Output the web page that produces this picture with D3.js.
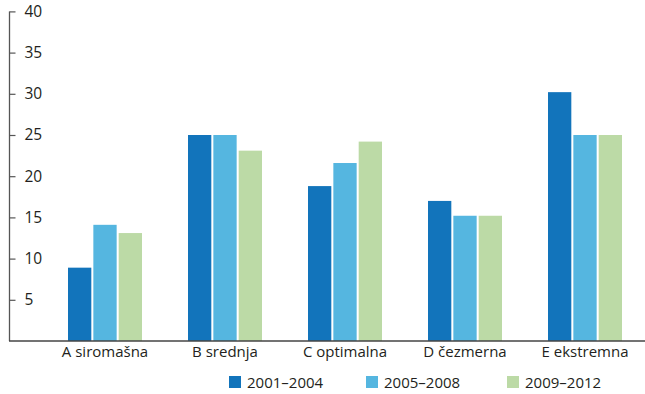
<!DOCTYPE html>
<html><head><meta charset="utf-8">
<script src="https://cdn.jsdelivr.net/npm/d3@7"></script>
<style>body{margin:0;background:#fff}svg{display:block}text{font-family:"Open Sans",sans-serif;fill:#231f20}</style>
</head><body><svg id="c" width="645" height="394"></svg>
<script>
const categories = ["A siromašna","B srednja","C optimalna","D čezmerna","E ekstremna"];
const seriesNames = ["2001–2004","2005–2008","2009–2012"];
const s2001 = [8.9, 25, 18.8, 17, 30.2];
const s2005 = [14.1, 25, 21.6, 15.2, 25];
const s2009 = [13.1, 23.1, 24.2, 15.2, 25];
const yTicks = [5,10,15,20,25,30,35,40];
const colors = ["#1274bb","#55b6e0","#bcdaa6"];
const series = [s2001, s2005, s2009];

const svg = d3.select("#c");
const y = d3.scaleLinear().domain([0,40]).range([341, 11.4]);
const x = d3.scaleBand().domain(categories).range([45, 645]).paddingInner(0).paddingOuter(0);
const x1 = d3.scaleBand().domain(seriesNames).range([0, 74]).paddingInner(0.08);
const step = x.bandwidth();

categories.forEach((c, i) => {
  const g = svg.append("g").attr("transform", `translate(${x(c) + step/2 - 37},0)`);
  series.forEach((s, j) => {
    g.append("rect").attr("x", x1(seriesNames[j])).attr("width", x1.bandwidth())
      .attr("y", y(s[i])).attr("height", y(0) - y(s[i])).attr("fill", colors[j]);
  });
});

const ya = svg.append("g").attr("transform","translate(9.5,0)")
  .call(d3.axisRight(y).tickValues(yTicks).tickSize(6).tickPadding(9));
ya.select(".domain").attr("d", `M0,${y(40)}V${y(0)}`).attr("stroke","#555").attr("stroke-width",1.3);
ya.selectAll(".tick line").attr("stroke","#555").attr("stroke-width",1.2);
ya.selectAll(".tick text").attr("font-size",15.5).attr("fill","#231f20");

const xa = svg.append("g").attr("transform",`translate(0,${y(0)})`)
  .call(d3.axisBottom(x).tickSize(0).tickPadding(5));
xa.select(".domain").attr("d","M9,0H645").attr("stroke","#444").attr("stroke-width",1.3);
xa.selectAll(".tick text").attr("font-size",15).attr("fill","#231f20");

const legX = [229, 366, 507];
seriesNames.forEach((n, j) => {
  svg.append("rect").attr("x", legX[j]).attr("y", 376).attr("width", 12).attr("height", 12).attr("fill", colors[j]);
  svg.append("text").attr("x", legX[j] + 18).attr("y", 387.5).attr("font-size", 15).text(n);
});
</script></body></html>
